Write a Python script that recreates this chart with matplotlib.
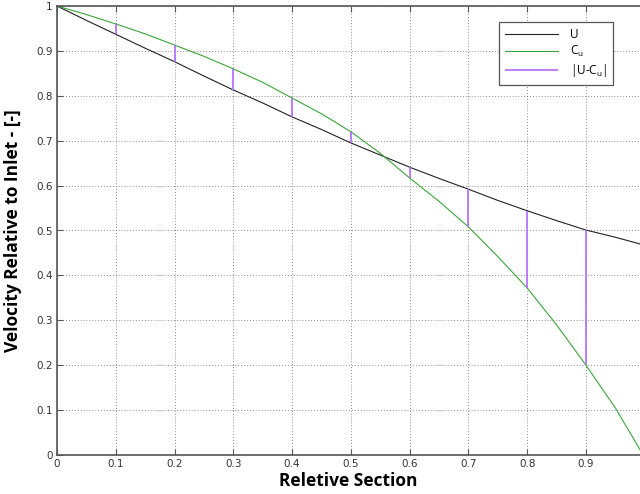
import matplotlib
matplotlib.use('Agg')
import matplotlib.pyplot as plt
import numpy as np

# values
section = [0.0, 0.05, 0.1, 0.15, 0.2, 0.25, 0.3, 0.35, 0.4, 0.45, 0.5,
           0.55, 0.6, 0.65, 0.7, 0.75, 0.8, 0.85, 0.9, 0.95, 0.992]
U = [1.0, 0.968, 0.937, 0.906, 0.876, 0.844, 0.813, 0.784, 0.753, 0.725, 0.695,
     0.668, 0.641, 0.616, 0.592, 0.567, 0.544, 0.522, 0.501, 0.485, 0.470]
Cu = [1.0, 0.981, 0.960, 0.938, 0.913, 0.888, 0.860, 0.830, 0.795, 0.760, 0.720,
      0.672, 0.617, 0.565, 0.508, 0.442, 0.372, 0.290, 0.200, 0.105, 0.012]

diff_x = [0.1, 0.2, 0.3, 0.4, 0.5, 0.6, 0.7, 0.8, 0.9]
diff_U = [0.937, 0.876, 0.813, 0.753, 0.695, 0.641, 0.592, 0.544, 0.501]
diff_Cu = [0.960, 0.913, 0.860, 0.795, 0.720, 0.617, 0.508, 0.372, 0.200]

purple = '#b36bff'
green = '#3aa63a'

fig = plt.figure(figsize=(6.4, 4.94), dpi=100)
ax = fig.add_axes([57/640., 39/494., 1 - 57/640., 449/494.])

ax.plot(section, U, color='#222222', lw=0.8, label='U')
ax.plot(section, Cu, color=green, lw=0.8, label=r'C$_\mathregular{u}$')
ax.vlines(diff_x, diff_U, diff_Cu, color=purple, lw=1.2,
          label=r'|U-C$_\mathregular{u}$|')

ax.set_xlim(0, 0.992)
ax.set_ylim(0, 1)
ax.set_xticks(np.arange(0, 0.95, 0.1))
ax.set_yticks(np.arange(0, 1.05, 0.1))
ax.set_xticklabels(['0', '0.1', '0.2', '0.3', '0.4', '0.5', '0.6', '0.7', '0.8', '0.9'])
ax.set_yticklabels(['0', '0.1', '0.2', '0.3', '0.4', '0.5', '0.6', '0.7', '0.8', '0.9', '1'])
ax.grid(True, ls=(0, (1, 2.5)), color='#666666', lw=0.6)
ax.tick_params(direction='in', top=True, right=False, length=4, width=0.8,
               colors='#555555', labelsize=7.5, labelcolor='#333333', pad=3)
for s in ax.spines.values():
    s.set_color('#555555')
    s.set_linewidth(1.2)
ax.spines['right'].set_visible(False)

ax.set_xlabel('Reletive Section', fontsize=12.5, fontweight='bold',
              family='Open Sans', labelpad=2)
ax.set_ylabel('Velocity Relative to Inlet - [-]', fontsize=12.5, fontweight='bold',
              family='Open Sans', labelpad=10)

leg = ax.legend(loc='upper right', bbox_to_anchor=(0.954, 0.964), borderaxespad=0,
                fancybox=False, edgecolor='#555555', framealpha=1,
                prop={'family': 'Open Sans', 'size': 8.5}, handlelength=4.5,
                handletextpad=1.0, borderpad=0.5, labelspacing=0.25)
leg.get_frame().set_linewidth(0.9)

fig.savefig('out.png', dpi=100)
